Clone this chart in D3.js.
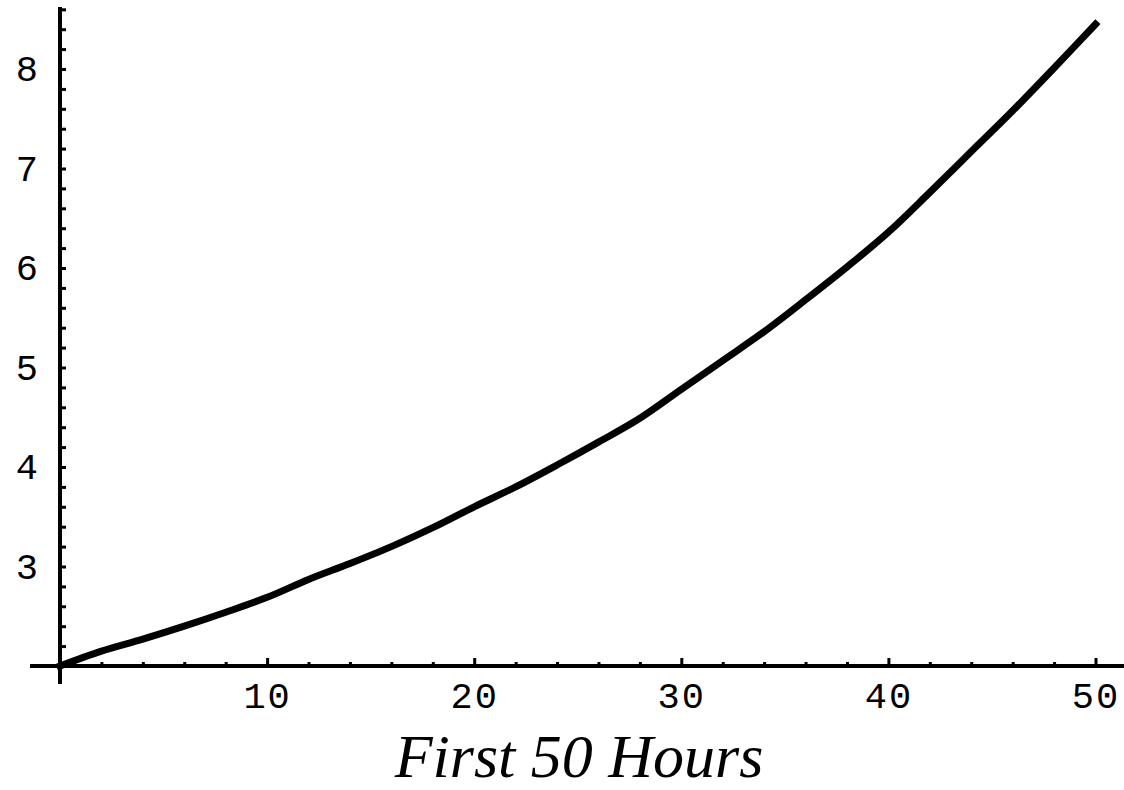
<!DOCTYPE html>
<html>
<head>
<meta charset="utf-8">
<script src="https://cdn.jsdelivr.net/npm/d3@7"></script>
<style>
body { margin:0; background:#fff; }
svg { display:block; }
.tick text { font-family:"Liberation Mono", "DejaVu Sans Mono", monospace; font-size:37px; fill:#000; }
</style>
</head>
<body>
<svg id="chart"></svg>
<script>
//----------data-------------
var hours  = [0,2,4,6,8,10,12,14,16,18,20,22,24,26,28,30,32,34,36,38,40,42,44,46,48,50];
var values = [2.00,2.15,2.27,2.40,2.54,2.69,2.87,3.03,3.20,3.39,3.60,3.80,4.02,4.25,4.49,4.78,5.07,5.36,5.68,6.01,6.36,6.76,7.17,7.58,8.01,8.45];
var xMajor = [10,20,30,40,50];
var xMinor = [2,4,6,8,12,14,16,18,22,24,26,28,32,34,36,38,42,44,46,48];
var yMajor = [3,4,5,6,7,8];
var yMinor = [2.2,2.4,2.6,2.8,3.2,3.4,3.6,3.8,4.2,4.4,4.6,4.8,5.2,5.4,5.6,5.8,6.2,6.4,6.6,6.8,7.2,7.4,7.6,7.8,8.2,8.4,8.6];
var xTitle = "First 50 Hours";

var points = hours.map(function(h,i){ return {hour:h, value:values[i]}; });

//----------setup-------------
var screen = {width:1124, height:790};
var svg = d3.select("#chart")
	.attr("width",screen.width)
	.attr("height",screen.height);

var xScale = d3.scaleLinear().domain([0,50]).range([60,1095.5]);
var yScale = d3.scaleLinear().domain([2,8]).range([666,69]);
var axisY = yScale(2);
var axisX = xScale(0);

//----------axes-------------
var drawAxes = function()
{
	// minor x ticks
	svg.append("g")
	.attr("transform","translate(0," + axisY + ")")
	.call(d3.axisBottom(xScale).tickValues(xMinor).tickSize(-4).tickFormat(""))
	.call(function(g){ g.select(".domain").remove(); })
	.selectAll("line").attr("stroke-width",3);

	// major x ticks + labels
	var xg = svg.append("g")
	.attr("transform","translate(0," + axisY + ")")
	.call(d3.axisBottom(xScale).tickValues(xMajor).tickSizeInner(-8).tickSizeOuter(0).tickPadding(16).tickFormat(d3.format("d")));
	xg.select(".domain").remove();
	xg.selectAll("line").attr("stroke-width",3);
	xg.selectAll("text").attr("letter-spacing","2px").attr("dx","0px");

	// minor y ticks
	svg.append("g")
	.attr("transform","translate(" + axisX + ",0)")
	.call(d3.axisLeft(yScale).tickValues(yMinor).tickSize(-6).tickFormat(""))
	.call(function(g){ g.select(".domain").remove(); })
	.selectAll("line").attr("stroke-width",3);

	// major y ticks + labels
	var yg = svg.append("g")
	.attr("transform","translate(" + axisX + ",0)")
	.call(d3.axisLeft(yScale).tickValues(yMajor).tickSizeInner(-6).tickSizeOuter(0).tickPadding(22).tickFormat(d3.format("d")));
	yg.select(".domain").remove();
	yg.selectAll("line").attr("stroke-width",3);

	// axis lines
	svg.append("line")
	.attr("x1",30).attr("x2",screen.width)
	.attr("y1",axisY).attr("y2",axisY)
	.attr("stroke","#000").attr("stroke-width",4);

	svg.append("line")
	.attr("x1",axisX).attr("x2",axisX)
	.attr("y1",7).attr("y2",684)
	.attr("stroke","#000").attr("stroke-width",4);
}

//----------curve-------------
var drawCurve = function()
{
	var line = d3.line()
		.x(function(d){ return xScale(d.hour); })
		.y(function(d){ return yScale(d.value); })
		.curve(d3.curveCatmullRom.alpha(0.5));

	svg.append("path")
	.datum(points)
	.attr("d",line)
	.attr("fill","none")
	.attr("stroke","#000")
	.attr("stroke-width",7)
	.attr("stroke-linecap","square");
}

//----------title-------------
var drawTitle = function()
{
	svg.append("text")
	.attr("x",579)
	.attr("y",777)
	.attr("text-anchor","middle")
	.style("font-family","'Liberation Serif', 'Times New Roman', serif")
	.style("font-style","italic")
	.style("font-size","62px")
	.attr("fill","#000")
	.text(xTitle);
}

drawAxes();
drawCurve();
drawTitle();
</script>
</body>
</html>
